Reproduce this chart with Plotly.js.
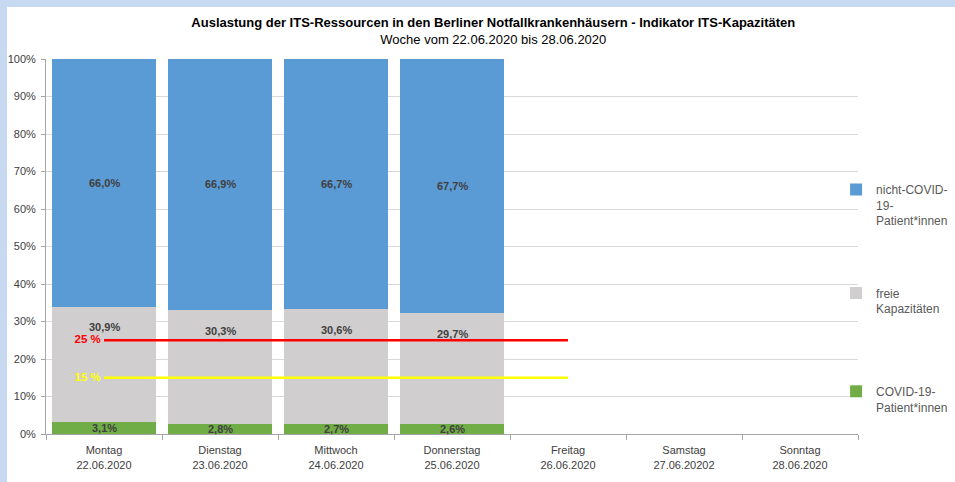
<!DOCTYPE html>
<html>
<head>
<meta charset="utf-8">
<script src="https://cdn.plot.ly/plotly-3.0.1.min.js"></script>
<style>
  html, body { margin:0; padding:0; background:#C6D9F1; width:955px; height:482px; overflow:hidden; }
  #chart { position:absolute; left:7px; top:7px; width:948px; height:475px; background:#fff; }
</style>
</head>
<body>
<div id="chart"></div>
<script>
const days = ["Montag", "Dienstag", "Mittwoch", "Donnerstag", "Freitag", "Samstag", "Sonntag"];
const dates = ["22.06.2020", "23.06.2020", "24.06.2020", "25.06.2020", "26.06.2020", "27.06.20202", "28.06.2020"];
const covid = [3.1, 2.8, 2.7, 2.6, null, null, null];
const freie = [30.9, 30.3, 30.6, 29.7, null, null, null];
const nichtCovid = [66.0, 66.9, 66.7, 67.7, null, null, null];
const threshold25 = [25, 25, 25, 25, 25];
const threshold15 = [15, 15, 15, 15, 15];
const seriesNames = ["COVID-19-<br>Patient*innen", "freie<br>Kapazitäten", "nicht-COVID-<br>19-<br>Patient*innen"];
const titleText = "Auslastung der ITS-Ressourcen in den Berliner Notfallkrankenhäusern - Indikator ITS-Kapazitäten";
const subtitleText = "Woche vom 22.06.2020 bis 28.06.2020";

const cats = days.map((d, i) => d + "<br>" + dates[i]);
const FONT = "Liberation Sans, Arial, sans-serif";
const fmt = v => v.toFixed(1).replace(".", ",") + "%";

const colors = { covid: "#70AD47", freie: "#D0CECE", nicht: "#5B9BD5" };

const traces = [
  { type: "bar", x: cats, y: covid, name: seriesNames[0], marker: { color: colors.covid }, legend: "legend3", hoverinfo: "none" },
  { type: "bar", x: cats, y: freie, name: seriesNames[1], marker: { color: colors.freie }, legend: "legend2", hoverinfo: "none" },
  { type: "bar", x: cats, y: nichtCovid, name: seriesNames[2], marker: { color: colors.nicht }, legend: "legend", hoverinfo: "none" },
  { type: "scatter", mode: "lines+text", x: cats.slice(0, threshold25.length), y: threshold25,
    line: { color: "#FF0000", width: 2.5 }, showlegend: false, hoverinfo: "none",
    text: threshold25.map((v, i) => i === 0 ? v + " % " : ""), textposition: "middle left",
    textfont: { family: FONT, size: 11.5, color: "#FF0000", weight: "bold" }, cliponaxis: false },
  { type: "scatter", mode: "lines+text", x: cats.slice(0, threshold15.length), y: threshold15,
    line: { color: "#FFFF00", width: 2.5 }, showlegend: false, hoverinfo: "none",
    text: threshold15.map((v, i) => i === 0 ? v + " % " : ""), textposition: "middle left",
    textfont: { family: FONT, size: 11.5, color: "#FFFF00", weight: "bold" }, cliponaxis: false }
];

const labelFont = { family: FONT, size: 11, color: "#404040", weight: "bold" };
const annotations = [];
cats.forEach((c, i) => {
  if (covid[i] == null) return;
  annotations.push({ x: c, y: covid[i] / 2, text: fmt(covid[i]), showarrow: false, font: labelFont, xref: "x", yref: "y" });
  annotations.push({ x: c, y: covid[i] + freie[i] - 5.5, text: fmt(freie[i]), showarrow: false, font: labelFont, xref: "x", yref: "y" });
  annotations.push({ x: c, y: covid[i] + freie[i] + nichtCovid[i] / 2, text: fmt(nichtCovid[i]), showarrow: false, font: labelFont, xref: "x", yref: "y" });
});

const legendBase = {
  xref: "paper", yref: "paper", x: 0.973, xanchor: "left", yanchor: "top",
  font: { family: FONT, size: 12, color: "#595959" }, bgcolor: "rgba(0,0,0,0)",
  itemwidth: 30, valign: "top"
};

const layout = {
  width: 948, height: 475,
  margin: { l: 39, r: 97, t: 52, b: 48, autoexpand: false },
  paper_bgcolor: "#FFFFFF", plot_bgcolor: "#FFFFFF",
  barmode: "stack", bargap: 0.095,
  font: { family: FONT, size: 11, color: "#404040" },
  title: {
    text: "<b>" + titleText + "</b><br>" + subtitleText,
    font: { family: FONT, size: 13, color: "#000000" },
    x: 0.513, xanchor: "center", xref: "container",
    y: 0.958, yanchor: "top", yref: "container"
  },
  xaxis: {
    type: "category", categoryorder: "array", categoryarray: cats,
    range: [-0.5, cats.length - 0.5],
    showline: true, linecolor: "#A6A6A6", linewidth: 1,
    ticks: "outside", tickson: "boundaries", ticklen: 5, tickcolor: "#A6A6A6",
    ticklabelstandoff: 6,
    tickfont: { family: FONT, size: 11, color: "#404040" },
    showgrid: false, zeroline: false, fixedrange: true
  },
  yaxis: {
    range: [0, 100], dtick: 10, ticksuffix: "%",
    showline: true, linecolor: "#A6A6A6", linewidth: 1,
    ticks: "outside", ticklen: 4, tickcolor: "#A6A6A6",
    ticklabelstandoff: 3,
    tickfont: { family: FONT, size: 11, color: "#404040" },
    showgrid: true, gridcolor: "#D9D9D9", gridwidth: 1, zeroline: false, fixedrange: true
  },
  legend: Object.assign({}, legendBase, { y: 0.69 }),
  legend2: Object.assign({}, legendBase, { y: 0.414 }),
  legend3: Object.assign({}, legendBase, { y: 0.152 }),
  annotations: annotations,
  showlegend: true
};

Plotly.newPlot("chart", traces, layout, { displayModeBar: false, staticPlot: true });
</script>
</body>
</html>
